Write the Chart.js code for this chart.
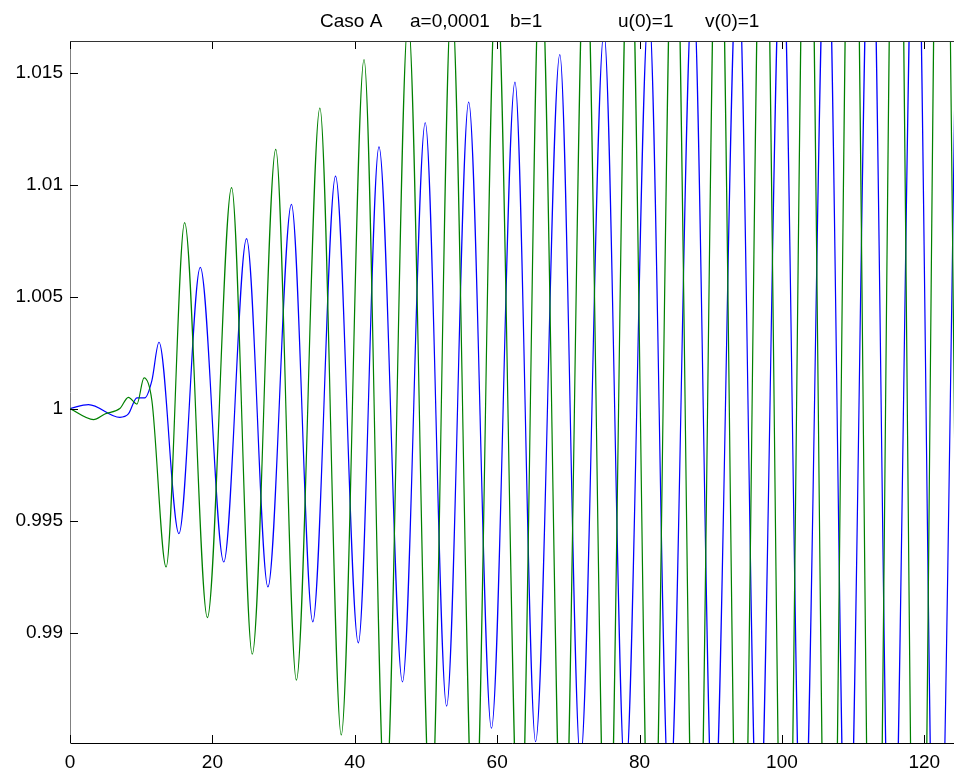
<!DOCTYPE html>
<html>
<head>
<meta charset="utf-8">
<script src="https://cdn.jsdelivr.net/npm/chart.js@4.4.1/dist/chart.umd.min.js"></script>
<style>
  html, body { margin: 0; padding: 0; background: #fff; }
  #wrap { width: 954px; height: 774px; position: relative; }
</style>
</head>
<body>
<div id="wrap"><canvas id="chart"></canvas></div>
<script>
// u(t): 峰值與谷值 (藍線)
const uT = [0, 2.6, 7.0, 8.2, 9.4, 10.5, 11.5, 12.5, 15.3, 18.3, 21.6, 24.8, 27.8, 31.1, 34.1,
    37.3, 40.5, 43.4, 46.7, 49.9, 52.9, 56.0, 59.2, 62.5, 65.4, 68.8, 71.7, 75.0, 78.0, 81.3,
    84.2, 87.5, 90.4, 93.8, 96.7, 100.0, 102.9, 106.3, 109.2, 112.5, 115.4, 118.8, 121.7, 125.0];
const uVal = [1.0, 1.00018, 0.99961, 0.99976, 1.00048, 1.00048, 1.00125, 1.00296, 0.99442, 1.0063,
    0.99315, 1.00759, 0.99204, 1.00912, 0.99048, 1.01038, 0.98954, 1.01168, 0.9878, 1.01276,
    0.98672, 1.01368, 0.98573, 1.01457, 0.98513, 1.0158, 0.9843, 1.0168, 0.9834, 1.0179,
    0.9822, 1.0191, 0.9809, 1.0204, 0.9795, 1.0218, 0.9781, 1.0232, 0.9766, 1.0247,
    0.975, 1.0263, 0.9734, 1.0279];

// v(t): 峰值與谷值 (綠線)
const vT = [0, 3.3, 4.9, 7.0, 8.2, 9.4, 10.4, 11.5, 13.5, 16.1, 19.3, 22.7, 25.6, 28.9, 31.8,
    35.1, 38.1, 41.3, 44.3, 47.5, 50.7, 53.6, 56.8, 59.9, 63.2, 66.1, 69.3, 72.4, 75.5, 78.6,
    81.7, 84.9, 88.0, 91.1, 94.2, 97.4, 100.5, 103.6, 106.7, 109.9, 113.0, 116.1, 119.2, 122.4, 125.5];
const vVal = [1.0, 0.99951, 0.99976, 1.0, 1.0005, 1.0002, 1.00137, 1.00036, 0.99293, 1.0083,
    0.99067, 1.00986, 0.98904, 1.01157, 0.98788, 1.01341, 0.98543, 1.01558, 0.9821, 1.0174,
    0.9815, 1.0184, 0.9797, 1.0196, 0.9792, 1.0205, 0.9778, 1.022, 0.9762, 1.0236,
    0.9745, 1.0252, 0.9728, 1.0269, 0.971, 1.0287, 0.969, 1.0306, 0.967, 1.0326,
    0.965, 1.0346, 0.963, 1.0367, 0.961];

// 刻度
const xTicks = [0, 20, 40, 60, 80, 100, 120];
const yTicks = [0.99, 0.995, 1, 1.005, 1.01, 1.015];
const yLabels = ['0.99', '0.995', '1', '1.005', '1.01', '1.015'];

// 標題各段
const titleParts = [['Caso A', 320], ['a=0,0001', 410], ['b=1', 510], ['u(0)=1', 618], ['v(0)=1', 705]];

const FONT = "'Liberation Sans', Arial, Helvetica, sans-serif";

function toPoints(ts, vals) {
    return ts.map((t, i) => ({ x: t, y: vals[i] }));
}

// 內向刻度線、上框線與標題
const axesDecor = {
    id: 'axesDecor',
    afterDraw(chart) {
        const { ctx, chartArea: a, scales: { x, y } } = chart;
        ctx.save();
        ctx.strokeStyle = '#000';
        ctx.lineWidth = 1;
        ctx.beginPath();
        xTicks.forEach(v => {
            const px = Math.round(x.getPixelForValue(v)) + 0.5;
            ctx.moveTo(px, a.bottom);
            ctx.lineTo(px, a.bottom - 8);
            ctx.moveTo(px, a.top);
            ctx.lineTo(px, a.top + 8);
        });
        yTicks.forEach(v => {
            const py = Math.round(y.getPixelForValue(v)) + 0.5;
            ctx.moveTo(a.left, py);
            ctx.lineTo(a.left + 8, py);
        });
        ctx.stroke();

        ctx.strokeStyle = '#333';
        ctx.beginPath();
        ctx.moveTo(a.left, a.top + 0.5);
        ctx.lineTo(a.right, a.top + 0.5);
        ctx.stroke();

        ctx.fillStyle = '#000';
        ctx.font = '19px ' + FONT;
        ctx.textBaseline = 'alphabetic';
        ctx.textAlign = 'left';
        titleParts.forEach(([text, px]) => ctx.fillText(text, px, 27));
        ctx.restore();
    }
};

function initChart() {
    const ctx = document.getElementById('chart').getContext('2d');
    new Chart(ctx, {
        type: 'line',
        data: {
            datasets: [
                {
                    label: 'v',
                    data: toPoints(vT, vVal),
                    borderColor: '#008000',
                    borderWidth: 1.2,
                    pointRadius: 0,
                    cubicInterpolationMode: 'monotone',
                    clip: 0,
                    order: 0
                },
                {
                    label: 'u',
                    data: toPoints(uT, uVal),
                    borderColor: '#0000ff',
                    borderWidth: 1.2,
                    pointRadius: 0,
                    cubicInterpolationMode: 'monotone',
                    clip: 0,
                    order: 1
                }
            ]
        },
        options: {
            responsive: true,
            maintainAspectRatio: false,
            animation: false,
            devicePixelRatio: 1,
            layout: { padding: { top: 41, right: 0, bottom: 0, left: 0 } },
            plugins: {
                legend: { display: false },
                title: { display: false },
                tooltip: { enabled: false }
            },
            scales: {
                x: {
                    type: 'linear',
                    min: 0,
                    max: 124.17,
                    afterBuildTicks: scale => { scale.ticks = xTicks.map(v => ({ value: v })); },
                    afterFit: scale => { scale.height = 31; },
                    grid: { display: false, drawTicks: false },
                    border: { display: true, color: '#000', width: 1 },
                    ticks: {
                        color: '#000',
                        padding: 8,
                        maxRotation: 0,
                        font: { family: FONT, size: 19 },
                        callback: v => String(v)
                    }
                },
                y: {
                    type: 'linear',
                    min: 0.98507,
                    max: 1.01641,
                    afterBuildTicks: scale => { scale.ticks = yTicks.map(v => ({ value: v })); },
                    afterFit: scale => { scale.width = 70; },
                    grid: { display: false, drawTicks: false },
                    border: { display: true, color: '#808080', width: 1 },
                    ticks: {
                        color: '#000',
                        padding: 7,
                        font: { family: FONT, size: 19 },
                        callback: v => yLabels[yTicks.indexOf(v)] ?? ''
                    }
                }
            }
        },
        plugins: [axesDecor]
    });
}

document.addEventListener('DOMContentLoaded', () => {
    initChart();
});
</script>
</body>
</html>
